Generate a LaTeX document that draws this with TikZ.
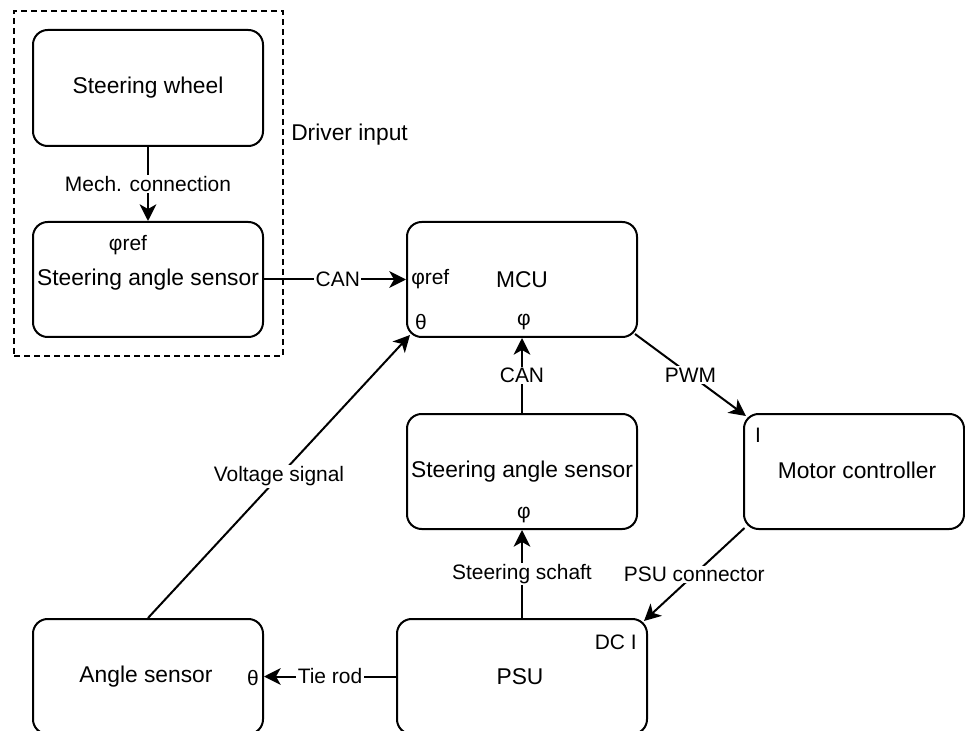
\documentclass[tikz,border=0pt]{standalone}
\usepackage{fontspec}
\setmainfont{Liberation Sans}
\usetikzlibrary{arrows.meta}
\begin{document}
\begin{tikzpicture}[x=0.75pt,y=-0.75pt,
  bigfont/.style={font=\fontsize{17.1pt}{20pt}\selectfont},
  smallfont/.style={font=\fontsize{15.7pt}{18pt}\selectfont},
  box/.style={draw, line width=1.5pt, rounded corners=11pt, minimum width=172.5pt, minimum height=86.25pt, inner sep=0pt, bigfont},
  port/.style={inner sep=0pt, smallfont},
  conn/.style={line width=1.5pt, -{Stealth[length=12.5pt,width=12.5pt,inset=3.5pt]}},
  lbl/.style={fill=white, inner sep=1pt, smallfont},
]
\useasboundingbox (0,0) rectangle (965,731);

% group
\node (grp) [draw, line width=1.5pt, dash pattern=on 4.5pt off 3pt, minimum width=201.75pt, minimum height=258.75pt, inner sep=0pt] at (148.5,183.5) {};
\node (grplbl) [anchor=west, inner sep=0pt, bigfont] at (291,135) {Driver input};

% boxes
\node (sw) [box, minimum height=87pt] at (148,88) {Steering wheel};
\node (sas1) [box] at (148,279.5) {Steering angle sensor};
\node (mcu) [box] at (522,279.5) {MCU};
\node (sas2) [box] at (522,471.5) {Steering angle sensor};
\node (mc) [box, minimum width=165pt] at (854,471.5) {};
\node (mctxt) [inner sep=0pt, bigfont] at (857,470) {Motor controller};
\node (psu) [box, minimum width=187.5pt] at (522,676.5) {};
\node (psutxt) [inner sep=0pt, bigfont] at (520,677) {PSU};
\node (as) [box] at (148,676.5) {};
\node (astxt) [inner sep=0pt, bigfont] at (146,677) {Angle sensor};

% ports
\node (p1) [port] at (128,245) {φref};
\node (p2) [port, anchor=west] at (411,279) {φref};
\node (p3) [port] at (421,322) {θ};
\node (p4) [port] at (524,322) {φ};
\node (p5) [port] at (758,435) {I};
\node (p6) [port] at (524,515) {φ};
\node (p7) [port, anchor=east] at (637,642) {DC I};
\node (p8) [port] at (253,678) {θ};

% connectors
\draw[conn] (sw.south) -- node[lbl] (l1) {Mech. connection} (sas1.north);
\draw[conn] (sas1.east) -- node[lbl, pos=0.52] (l2) {CAN} (mcu.west);
\draw[conn] (sas2.north) -- node[lbl] (l3) {CAN} (mcu.south);
\draw[conn] ([shift={(-3,-4)}]mcu.south east) -- node[lbl] (l4) {PWM} ([shift={(3,3)}]mc.north west);
\draw[conn] ([shift={(1.5,-2)}]mc.south west) -- node[lbl] (l5) {PSU connector} ([shift={(-4,3)}]psu.north east);
\draw[conn] (psu.north) -- node[lbl] (l6) {Steering schaft} (sas2.south);
\draw[conn] (psu.west) -- node[lbl] (l7) {Tie rod} (as.east);
\draw[conn] (as.north) -- node[lbl] (l8) {Voltage signal} ([shift={(4,-3)}]mcu.south west);
\end{tikzpicture}
\end{document}
